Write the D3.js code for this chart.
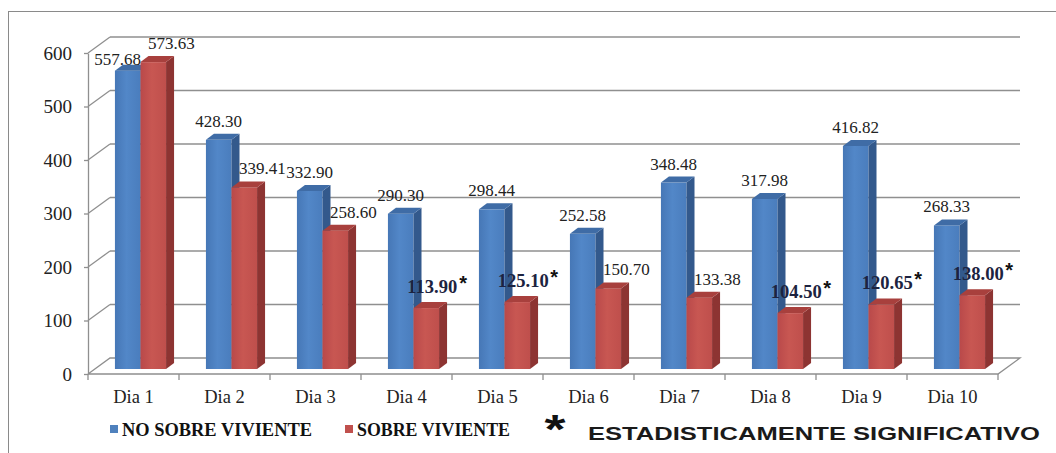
<!DOCTYPE html>
<html>
<head>
<meta charset="utf-8">
<script src="https://cdn.jsdelivr.net/npm/d3@7"></script>
<style>
  body { margin: 0; background: #fff; }
  svg { display: block; }
</style>
</head>
<body>
<svg id="chart" width="1056" height="453"></svg>
<script>
// data
var dias = ["Dia 1", "Dia 2", "Dia 3", "Dia 4", "Dia 5", "Dia 6", "Dia 7", "Dia 8", "Dia 9", "Dia 10"];
var noSobreviviente = [557.68, 428.30, 332.90, 290.30, 298.44, 252.58, 348.48, 317.98, 416.82, 268.33];
var sobreviviente = [573.63, 339.41, 258.60, 113.90, 125.10, 150.70, 133.38, 104.50, 120.65, 138.00];
var significativo = [false, false, false, true, true, false, false, true, true, true];
var yTicks = [0, 100, 200, 300, 400, 500, 600];
var series = ["NO SOBRE VIVIENTE", "SOBRE VIVIENTE"];

var svg = d3.select("#chart");
var serif = "'Liberation Serif', 'Times New Roman', serif";
var sans = "'Liberation Sans', Arial, sans-serif";
var gridColor = "#8f8f8f";

// 3d floor depth and bar placement
var depth = { dx: 22, dy: 16 };
var barShift = { dx: 7, dy: 5 };
var barDepth = { dx: 8, dy: 6 };

var x0 = d3.scaleBand().domain(dias).range([88, 998]);
var x1 = d3.scaleBand().domain(series).range([0, x0.bandwidth()]).paddingOuter(0.78);
var y = d3.scaleLinear().domain([0, 600]).range([374, 53]);

// outer frame
svg.append("rect")
    .attr("x", 8.5).attr("y", 11.5)
    .attr("width", 1100).attr("height", 500)
    .attr("fill", "none").attr("stroke", "#8a8a8a");

// back wall gridlines + side wall diagonals
var grid = svg.append("g").attr("stroke", gridColor).attr("stroke-width", 1.3).attr("fill", "none");
grid.selectAll(".back").data(yTicks.slice(1)).enter().append("line")
    .attr("x1", 88 + depth.dx).attr("x2", 998 + depth.dx)
    .attr("y1", function (d) { return y(d) - depth.dy; })
    .attr("y2", function (d) { return y(d) - depth.dy; });
grid.selectAll(".side").data(yTicks.slice(1)).enter().append("line")
    .attr("x1", 88).attr("x2", 88 + depth.dx)
    .attr("y1", function (d) { return y(d); })
    .attr("y2", function (d) { return y(d) - depth.dy; });

// floor
svg.append("path")
    .attr("d", d3.line()([[88, y(0)], [998, y(0)], [998 + depth.dx, y(0) - depth.dy], [88 + depth.dx, y(0) - depth.dy], [88, y(0)]]))
    .attr("fill", "#fff").attr("stroke", gridColor).attr("stroke-width", 1.3);

// y axis
var yAxis = svg.append("g")
    .attr("transform", "translate(88,0)")
    .call(d3.axisLeft(y).tickValues(yTicks).tickSize(4).tickSizeOuter(0).tickPadding(12));
yAxis.attr("font-family", serif).attr("font-size", 19);
yAxis.select(".domain").attr("stroke", gridColor).attr("stroke-width", 1.3);
yAxis.selectAll(".tick line").attr("stroke", gridColor).attr("stroke-width", 1.3);
yAxis.selectAll(".tick text").attr("fill", "#222").attr("dy", "0.34em");

// x axis: labels at the centres, ticks at the category edges
var xAxis = svg.append("g")
    .attr("transform", "translate(0," + y(0) + ")")
    .call(d3.axisBottom(x0).tickSize(0).tickPadding(16));
xAxis.attr("font-family", serif).attr("font-size", 18.5);
xAxis.select(".domain").remove();
xAxis.selectAll(".tick text").attr("fill", "#222");
var edges = dias.map(function (d) { return x0(d); }).concat([x0.range()[1]]);
svg.append("g").selectAll("line").data(edges).enter().append("line")
    .attr("x1", function (d) { return d; }).attr("x2", function (d) { return d; })
    .attr("y1", y(0)).attr("y2", y(0) + 6)
    .attr("stroke", gridColor).attr("stroke-width", 1.3);

// bar colours: front, side, top
var colors = {
    "NO SOBRE VIVIENTE": { front: "url(#gBlue)", side: "#33598c", top: "#3f6ca6", key: "#4f81bd" },
    "SOBRE VIVIENTE": { front: "url(#gRed)", side: "#8d3432", top: "#a8403d", key: "#c0504d" }
};
var defs = svg.append("defs");
function grad(id, a, b, c) {
    var g = defs.append("linearGradient").attr("id", id).attr("x1", 0).attr("x2", 1).attr("y1", 0).attr("y2", 0);
    g.append("stop").attr("offset", "0%").attr("stop-color", a);
    g.append("stop").attr("offset", "45%").attr("stop-color", b);
    g.append("stop").attr("offset", "100%").attr("stop-color", c);
}
grad("gBlue", "#4677b6", "#5287c8", "#4a7dbd");
grad("gRed", "#b9494a", "#c85752", "#bf4f4c");

var rows = dias.map(function (d, i) {
    return [
        { dia: d, s: series[0], v: noSobreviviente[i], sig: false },
        { dia: d, s: series[1], v: sobreviviente[i], sig: significativo[i] }
    ];
});
var bars = [].concat.apply([], rows);

var w = x1.bandwidth();
function bx(d) { return x0(d.dia) + x1(d.s) + barShift.dx; }
function btop(d) { return y(d.v) - barShift.dy; }
var base = y(0) - barShift.dy;

var barG = svg.append("g").selectAll("g").data(bars).enter().append("g");
barG.append("rect")
    .attr("x", bx).attr("y", btop)
    .attr("width", w).attr("height", function (d) { return base - btop(d); })
    .attr("fill", function (d) { return colors[d.s].front; });
barG.append("path")
    .attr("d", function (d) {
        var x = bx(d) + w, t = btop(d);
        return d3.line()([[x, base], [x + barDepth.dx, base - barDepth.dy], [x + barDepth.dx, t - barDepth.dy], [x, t]]) + "Z";
    })
    .attr("fill", function (d) { return colors[d.s].side; });
barG.append("path")
    .attr("d", function (d) {
        var x = bx(d), t = btop(d);
        return d3.line()([[x, t], [x + barDepth.dx, t - barDepth.dy], [x + w + barDepth.dx, t - barDepth.dy], [x + w, t]]) + "Z";
    })
    .attr("fill", function (d) { return colors[d.s].top; });

// value label positions; when the pair collides the blue one slides left/down
function labelPos(d, i) {
    var p = { x: bx(d) + w / 2, y: btop(d) - (d.sig ? 15 : 13) };
    if (d.s === series[1]) p.x += d.sig ? 6 : 18;
    else {
        var other = bars[i + 1];
        var oy = btop(other) - 13;
        if (Math.abs(oy - p.y) < 16) { p.x -= 10; p.y += 7; }
    }
    return p;
}

var fmt = d3.format(".2f");
var lab = svg.append("g");
bars.forEach(function (d, i) {
    var p = labelPos(d, i);
    lab.append("text")
        .attr("x", p.x).attr("y", p.y)
        .attr("text-anchor", "middle")
        .attr("font-family", serif)
        .attr("font-size", d.sig ? 18.5 : 17)
        .attr("font-weight", d.sig ? "bold" : "normal")
        .attr("fill", d.sig ? "#1c2340" : "#222")
        .text(fmt(d.v));
    if (d.sig) {
        lab.append("text")
            .attr("x", p.x + 27)
            .attr("y", p.y - 3)
            .attr("font-family", sans)
            .attr("font-weight", "bold")
            .attr("font-size", 20)
            .attr("fill", "#111")
            .text("*");
    }
});

// legend
var legend = [
    { s: series[0], x: 110, len: 190 },
    { s: series[1], x: 345, len: 153 }
];
var lg = svg.append("g").selectAll("g").data(legend).enter().append("g");
lg.append("rect")
    .attr("x", function (d) { return d.x; }).attr("y", 425)
    .attr("width", 8).attr("height", 8)
    .attr("fill", function (d) { return colors[d.s].key; });
lg.append("text")
    .attr("x", function (d) { return d.x + 12; }).attr("y", 436)
    .attr("font-family", serif).attr("font-weight", "bold").attr("font-size", 18)
    .attr("fill", "#111")
    .attr("textLength", function (d) { return d.len; })
    .attr("lengthAdjust", "spacingAndGlyphs")
    .text(function (d) { return d.s; });

svg.append("text")
    .attr("transform", "translate(555,443) scale(1.35,1)")
    .attr("text-anchor", "middle")
    .attr("font-family", sans).attr("font-weight", "bold").attr("font-size", 40)
    .attr("fill", "#111")
    .text("*");
svg.append("text")
    .attr("x", 588).attr("y", 440)
    .attr("font-family", sans).attr("font-weight", "bold").attr("font-size", 19)
    .attr("fill", "#1a1a1a")
    .attr("textLength", 452).attr("lengthAdjust", "spacingAndGlyphs")
    .text("ESTADISTICAMENTE SIGNIFICATIVO");
</script>
</body>
</html>
